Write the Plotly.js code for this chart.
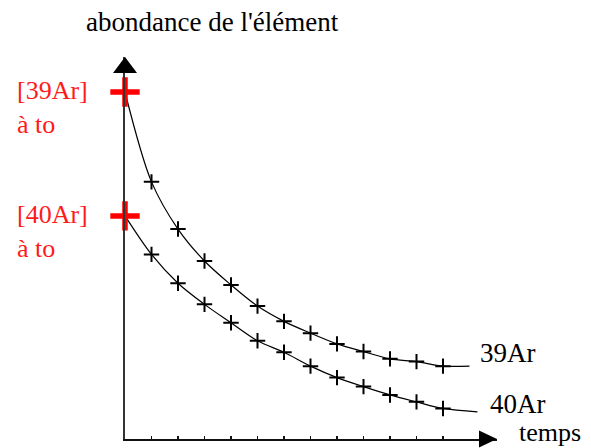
<!DOCTYPE html>
<html>
<head>
<meta charset="utf-8">
<script src="https://cdn.plot.ly/plotly-3.0.1.min.js"></script>
<style>html,body{margin:0;padding:0;background:#fff;}#chart{width:591px;height:448px;}</style>
</head>
<body>
<div id="chart"></div>
<script>
// time (tick units) and abundance (arbitrary units, [39Ar] at t0 = 100)
const time39 = [0, 1, 2, 3, 4, 5, 6, 7, 8, 9, 10, 11, 12, 13.0];
const ar39   = [100, 74.1, 60.5, 51.3, 44.4, 38.3, 33.9, 30.5, 27.4, 25.2, 23.1, 22.3, 21.0, 21.0];
const time40 = [0, 1, 2, 3, 4, 5, 6, 7, 8, 9, 10, 11, 12, 13.3];
const ar40   = [64.3, 53.2, 44.9, 38.8, 33.5, 28.3, 25.0, 21.0, 17.7, 15.1, 12.7, 10.7, 8.8, 7.8];
const tickTimes = [1, 2, 3, 4, 5, 6, 7, 8, 9, 10, 11, 12];
const seriesNames = ['39Ar', '40Ar'];
const startLabels = ['[39Ar]<br>à to', '[40Ar]<br>à to'];
const titleY = "abondance de l'élément";
const titleX = 'temps';

const curveLine = {color: '#000', width: 1.2, shape: 'spline', smoothing: 0.9};
const crossMarker = {symbol: 'cross-thin', size: 11, line: {color: '#000', width: 2}};

const traces = [
  {x: time39, y: ar39, mode: 'lines', line: curveLine, hoverinfo: 'skip'},
  {x: time40, y: ar40, mode: 'lines', line: curveLine, hoverinfo: 'skip'},
  {x: time39.slice(1, 13), y: ar39.slice(1, 13), mode: 'markers', marker: crossMarker},
  {x: time40.slice(1, 13), y: ar40.slice(1, 13), mode: 'markers', marker: crossMarker},
  {x: [time39[0], time40[0]], y: [ar39[0], ar40[0]], mode: 'markers', cliponaxis: false,
   marker: {symbol: 'cross-thin', size: 21, line: {color: '#ff0000', width: 5.5}}}
];

// plot area: x 125..497 px, y 57..439 px
const W = 372, H = 382;
const px = v => (v - 125) / W;
const py = v => (439 - v) / H;

function txt(x, y, text, color, size) {
  return {
    xref: 'paper', yref: 'paper', x: px(x), y: py(y), xanchor: 'left', yanchor: 'middle',
    text: text, showarrow: false, align: 'left',
    font: {family: 'Liberation Serif', size: size, color: color}
  };
}

const layout = {
  width: 591, height: 448,
  margin: {l: 125, r: 94, t: 57, b: 9},
  paper_bgcolor: '#fff', plot_bgcolor: '#fff',
  showlegend: false,
  xaxis: {range: [0, 372 / 26.5], showgrid: false, zeroline: false, showline: true,
          linecolor: '#111', linewidth: 2, ticks: 'inside', tickvals: tickTimes,
          ticklen: 3, tickwidth: 1.5, tickcolor: '#111', showticklabels: false, fixedrange: true},
  yaxis: {range: [0, 382 / 3.47], showgrid: false, zeroline: false, showline: true,
          linecolor: '#333', linewidth: 2, ticks: '', showticklabels: false, fixedrange: true},
  shapes: [
    {type: 'path', xref: 'paper', yref: 'paper', fillcolor: '#000', line: {width: 0},
     path: `M ${px(479)} ${py(430.5)} L ${px(497)} ${py(439)} L ${px(479)} ${py(447.5)} Z`},
    {type: 'path', xref: 'paper', yref: 'paper', fillcolor: '#000', line: {width: 0},
     path: `M ${px(113)} ${py(73)} L ${px(125)} ${py(57)} L ${px(137)} ${py(73)} Z`}
  ],
  annotations: [
    txt(84, 22, titleY, '#000', 27),
    txt(517, 432, titleX, '#000', 26),
    txt(478, 353, seriesNames[0], '#000', 27),
    txt(488, 404, seriesNames[1], '#000', 27),
    txt(15, 108, startLabels[0], '#ff1a1a', 26),
    txt(15, 231, startLabels[1], '#ff1a1a', 26)
  ]
};

Plotly.newPlot('chart', traces, layout, {displayModeBar: false, staticPlot: true});
</script>
</body>
</html>
